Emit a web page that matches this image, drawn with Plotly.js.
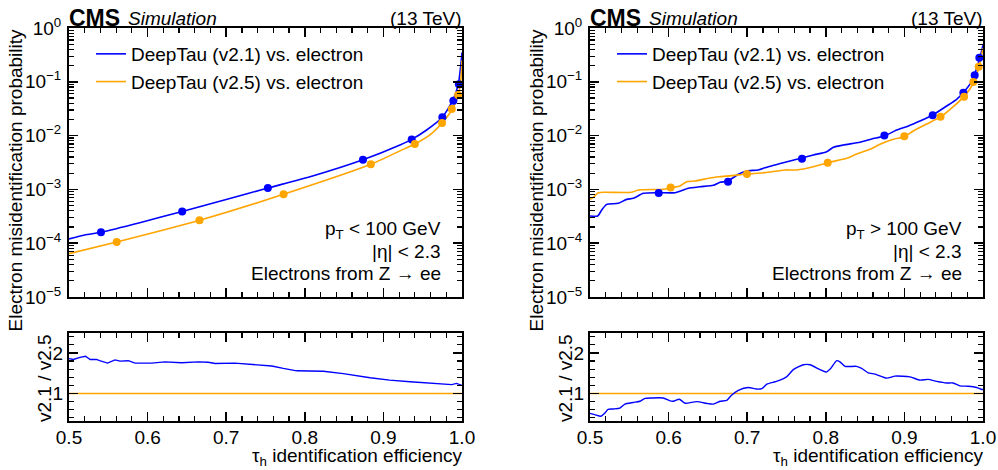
<!DOCTYPE html>
<html>
<head>
<meta charset="utf-8">
<script src="https://cdn.plot.ly/plotly-3.0.1.min.js"></script>
<style>html,body{margin:0;padding:0;background:#fff;}#chart{width:998px;height:470px;}</style>
</head>
<body>
<div id="chart"></div>
<script>
// ---------- data ----------
const seriesNames = ['DeepTau (v2.1) vs. electron', 'DeepTau (v2.5) vs. electron'];

// Left panel: pT < 100 GeV
const lowV21EffX = [0.5, 0.52, 0.5407, 0.59, 0.644, 0.70, 0.753, 0.81, 0.874, 0.9211, 0.936, 0.955, 0.975, 0.988, 0.9953, 0.9987, 1.0];
const lowV21MisY = [1.2e-4, 1.42e-4, 1.6e-4, 2.4e-4, 3.9e-4, 6.5e-4, 1.06e-3, 1.78e-3, 3.56e-3, 6.7e-3, 8.5e-3, 0.0127, 0.0219, 0.0446, 0.0898, 0.221, 0.35];
const lowV25EffX = [0.5, 0.5607, 0.666, 0.773, 0.884, 0.9211, 0.940, 0.9593, 0.9746, 0.9876, 0.9953, 0.9987, 1.0];
const lowV25MisY = [6.4e-5, 1.05e-4, 2.66e-4, 8.1e-4, 2.92e-3, 5.2e-3, 6.98e-3, 0.0103, 0.0171, 0.0309, 0.0569, 0.116, 0.25];
const lowV21WpX = [0.5407, 0.644, 0.753, 0.874, 0.936, 0.975, 0.989, 0.996];
const lowV21WpY = [1.6e-4, 3.9e-4, 1.06e-3, 3.56e-3, 8.5e-3, 0.0219, 0.0446, 0.0898];
const lowV25WpX = [0.5607, 0.666, 0.773, 0.884, 0.940, 0.9746, 0.987, 0.995];
const lowV25WpY = [1.05e-4, 2.66e-4, 8.1e-4, 2.92e-3, 6.98e-3, 0.0171, 0.0312, 0.0569];
const lowRatioX = [0.5, 0.5055, 0.514, 0.521, 0.527, 0.535, 0.539, 0.549, 0.5585, 0.565, 0.5755, 0.584, 0.605, 0.622, 0.643, 0.6645, 0.677, 0.686, 0.711, 0.732, 0.748, 0.758, 0.7726, 0.7897, 0.8235, 0.849, 0.883, 0.908, 0.934, 0.9635, 0.987, 0.993, 1.0];
const lowRatioY = [1.86, 1.84, 1.89, 1.92, 1.84, 1.84, 1.81, 1.75, 1.83, 1.80, 1.81, 1.75, 1.75, 1.78, 1.76, 1.78, 1.77, 1.74, 1.75, 1.72, 1.68, 1.68, 1.62, 1.56, 1.55, 1.49, 1.39, 1.33, 1.29, 1.25, 1.22, 1.25, 1.20];

// Right panel: pT > 100 GeV
const highV21EffX = [0.5, 0.5098, 0.5149, 0.5212, 0.536, 0.5467, 0.5551, 0.5679, 0.587, 0.6081, 0.625, 0.6399, 0.6569, 0.6654, 0.675, 0.6887, 0.6994, 0.714, 0.7269, 0.7396, 0.7545, 0.7693, 0.7841, 0.8011, 0.8096, 0.8223, 0.8435, 0.8584, 0.8745, 0.8902, 0.905, 0.9198, 0.936, 0.9538, 0.9665, 0.975, 0.9856, 0.989, 0.9953, 1.0];
const highV21MisY = [3.21e-4, 3.21e-4, 4.14e-4, 5.27e-4, 5.51e-4, 6.53e-4, 6.82e-4, 8.45e-4, 8.69e-4, 8.69e-4, 1.05e-3, 1.12e-3, 1.19e-3, 1.355e-3, 1.42e-3, 1.91e-3, 2.2e-3, 2.3e-3, 2.64e-3, 2.96e-3, 3.37e-3, 3.84e-3, 4.37e-3, 5.02e-3, 6.05e-3, 6.68e-3, 7.5e-3, 8.65e-3, 9.84e-3, 0.0127, 0.01507, 0.01866, 0.02415, 0.0355, 0.0472, 0.0631, 0.1005, 0.1337, 0.254, 0.48];
const highV25EffX = [0.5, 0.5042, 0.5106, 0.519, 0.553, 0.5615, 0.5933, 0.603, 0.6145, 0.623, 0.6336, 0.6505, 0.6632, 0.6803, 0.6997, 0.7226, 0.748, 0.763, 0.7841, 0.8024, 0.8266, 0.8393, 0.8562, 0.869, 0.8859, 0.8999, 0.9113, 0.9284, 0.9466, 0.9622, 0.9758, 0.9877, 0.995, 1.0];
const highV25MisY = [6.53e-4, 7.13e-4, 8.69e-4, 8.83e-4, 8.83e-4, 9.75e-4, 1.005e-3, 1.076e-3, 1.156e-3, 1.39e-3, 1.43e-3, 1.61e-3, 1.72e-3, 1.8e-3, 1.93e-3, 2.05e-3, 2.3e-3, 2.3e-3, 2.64e-3, 3.14e-3, 3.78e-3, 4.55e-3, 5.56e-3, 6.89e-3, 8.53e-3, 9.55e-3, 0.0122, 0.01644, 0.0225, 0.0345, 0.053, 0.0938, 0.191, 0.42];
const highV21WpX = [0.5874, 0.6756, 0.7697, 0.8745, 0.936, 0.975, 0.9894, 0.9953];
const highV21WpY = [8.6e-4, 1.39e-3, 3.72e-3, 1.0e-2, 0.0238, 0.0628, 0.132, 0.28];
const highV25WpX = [0.6026, 0.6997, 0.8024, 0.8999, 0.946, 0.976, 0.9877, 0.9945];
const highV25WpY = [1.08e-3, 1.93e-3, 3.14e-3, 9.7e-3, 0.0225, 0.053, 0.099, 0.191];
const highRatioX = [0.5, 0.506, 0.514, 0.519, 0.523, 0.5297, 0.538, 0.5445, 0.555, 0.5636, 0.570, 0.5785, 0.593, 0.6018, 0.606, 0.6136, 0.621, 0.6357, 0.6505, 0.657, 0.6654, 0.674, 0.680, 0.6887, 0.7014, 0.712, 0.7185, 0.725, 0.7354, 0.7417, 0.750, 0.7587, 0.7714, 0.780, 0.7926, 0.8003, 0.8062, 0.8139, 0.818, 0.8244, 0.839, 0.8456, 0.854, 0.8626, 0.8775, 0.888, 0.9071, 0.92, 0.930, 0.941, 0.9538, 0.962, 0.9707, 0.981, 0.992, 0.9985, 1.0];
const highRatioY = [0.51, 0.48, 0.44, 0.52, 0.61, 0.62, 0.64, 0.74, 0.78, 0.81, 0.88, 0.89, 0.89, 0.82, 0.81, 0.86, 0.76, 0.80, 0.75, 0.74, 0.81, 0.83, 0.96, 1.08, 1.15, 1.11, 1.12, 1.23, 1.29, 1.33, 1.41, 1.59, 1.71, 1.71, 1.59, 1.53, 1.62, 1.81, 1.78, 1.67, 1.67, 1.62, 1.51, 1.48, 1.38, 1.43, 1.41, 1.33, 1.35, 1.30, 1.26, 1.26, 1.19, 1.18, 1.15, 1.10, 1.10];

// reference (v2.5 / v2.5) ratio line
const refRatioX = [0.5, 1.0];
const refRatioY = [1, 1];

// tick labels
const xTickVals = [0.5, 0.6, 0.7, 0.8, 0.9, 1.0];
const xTickText = ['0.5', '0.6', '0.7', '0.8', '0.9', '1.0'];
const yTickVals = [1e-5, 1e-4, 1e-3, 1e-2, 1e-1, 1];
const yTickText = ['10<sup>−5</sup>', '10<sup>−4</sup>', '10<sup>−3</sup>', '10<sup>−2</sup>', '10<sup>−1</sup>', '10<sup>0</sup>'];
const ratioTickVals = [1, 2];
const ratioTickText = ['1', '2'];

// ---------- styling ----------
const BLUE = '#0000ff';
const ORANGE = '#ffa500';
const FONT = 'Liberation Sans, Arial, sans-serif';
const W = 998, H = 470;
const px = v => v / W;
const py = v => 1 - v / H;

const logMinor = [];
for (let d = -5; d < 0; d++) for (let k = 2; k <= 9; k++) logMinor.push(k * Math.pow(10, d));

function xAxis(dom, anchor, labels) {
  return {
    domain: dom, anchor: anchor, range: [0.5, 1.0], tickmode: 'array', tickvals: xTickVals, ticktext: xTickText,
    showticklabels: labels, ticks: 'inside', ticklen: 9, tickwidth: 1.5, tickcolor: '#000',
    minor: {ticks: 'inside', dtick: 0.02, tick0: 0.5, ticklen: 5, tickwidth: 1.2, tickcolor: '#000'},
    showline: true, linewidth: 2, linecolor: '#000', mirror: 'allticks', showgrid: false, zeroline: false,
    tickfont: {family: FONT, size: 19, color: '#000'}, ticklabelstandoff: -2, fixedrange: true
  };
}
function yMain(dom, anchor) {
  return {
    domain: dom, anchor: anchor, type: 'log', range: [-5, 0], tickmode: 'array', tickvals: yTickVals, ticktext: yTickText,
    ticks: 'inside', ticklen: 9, tickwidth: 1.5, tickcolor: '#000',
    minor: {ticks: 'inside', tickmode: 'array', tickvals: logMinor, ticklen: 5, tickwidth: 1.2, tickcolor: '#000'},
    showline: true, linewidth: 2, linecolor: '#000', mirror: 'allticks', showgrid: false, zeroline: false,
    tickfont: {family: FONT, size: 19, color: '#000'}, ticklabelstandoff: 2, fixedrange: true
  };
}
function yRatio(dom, anchor) {
  return {
    domain: dom, anchor: anchor, range: [0.33, 2.5], tickmode: 'array', tickvals: ratioTickVals, ticktext: ratioTickText,
    ticks: 'inside', ticklen: 9, tickwidth: 1.5, tickcolor: '#000',
    minor: {ticks: 'inside', dtick: 0.2, tick0: 0, ticklen: 5, tickwidth: 1.2, tickcolor: '#000'},
    showline: true, linewidth: 2, linecolor: '#000', mirror: 'allticks', showgrid: false, zeroline: false,
    tickfont: {family: FONT, size: 19, color: '#000'}, fixedrange: true
  };
}

const LX = [px(69), px(462)];
const RX = [px(590), px(983)];
const MAINY = [py(297), py(28)];
const RATY = [py(420.7), py(332.7)];

function line(x, y, color, xa, ya, name, legend, show) {
  return {x: x, y: y, type: 'scatter', mode: 'lines', line: {color: color, width: 1.6, shape: 'spline', smoothing: 0.6},
    xaxis: xa, yaxis: ya, name: name, legend: legend, showlegend: show, hoverinfo: 'skip'};
}
function dots(x, y, color, xa, ya) {
  return {x: x, y: y, type: 'scatter', mode: 'markers', marker: {color: color, size: 8},
    xaxis: xa, yaxis: ya, showlegend: false, hoverinfo: 'skip'};
}

const data = [
  line(lowV21EffX, lowV21MisY, BLUE, 'x', 'y', seriesNames[0], 'legend', true),
  line(lowV25EffX, lowV25MisY, ORANGE, 'x', 'y', seriesNames[1], 'legend', true),
  dots(lowV21WpX, lowV21WpY, BLUE, 'x', 'y'),
  dots(lowV25WpX, lowV25WpY, ORANGE, 'x', 'y'),
  {x: refRatioX, y: refRatioY, type: 'scatter', mode: 'lines', line: {color: ORANGE, width: 1.4}, xaxis: 'x2', yaxis: 'y2', showlegend: false, hoverinfo: 'skip'},
  {x: lowRatioX, y: lowRatioY, type: 'scatter', mode: 'lines', line: {color: BLUE, width: 1.4}, xaxis: 'x2', yaxis: 'y2', showlegend: false, hoverinfo: 'skip'},

  line(highV21EffX, highV21MisY, BLUE, 'x3', 'y3', seriesNames[0], 'legend2', true),
  line(highV25EffX, highV25MisY, ORANGE, 'x3', 'y3', seriesNames[1], 'legend2', true),
  dots(highV21WpX, highV21WpY, BLUE, 'x3', 'y3'),
  dots(highV25WpX, highV25WpY, ORANGE, 'x3', 'y3'),
  {x: refRatioX, y: refRatioY, type: 'scatter', mode: 'lines', line: {color: ORANGE, width: 1.4}, xaxis: 'x4', yaxis: 'y4', showlegend: false, hoverinfo: 'skip'},
  {x: highRatioX, y: highRatioY, type: 'scatter', mode: 'lines', line: {color: BLUE, width: 1.4, shape: 'spline', smoothing: 0.6}, xaxis: 'x4', yaxis: 'y4', showlegend: false, hoverinfo: 'skip'}
];

function panelAnnotations(x0, x1, textX, lines) {
  const f = {family: FONT, size: 19, color: '#000'};
  const a = [
    {text: '<b>CMS</b>', x: px(x0 - 1), y: py(32), xanchor: 'left', yanchor: 'bottom', font: {family: FONT, size: 23, color: '#000'}},
    {text: '<i>Simulation</i>', x: px(x0 + 58), y: py(30), xanchor: 'left', yanchor: 'bottom', font: f},
    {text: '(13 TeV)', x: px(x1), y: py(30), xanchor: 'right', yanchor: 'bottom', font: f},
    {text: 'Electron misidentification probability', x: px(x0 - 54), y: py(28), xanchor: 'center', yanchor: 'top', textangle: -90, font: f},
    {text: 'v2.1 / v2.5', x: px(x0 - 25), y: py(333), xanchor: 'center', yanchor: 'top', textangle: -90, font: f},
    {text: 'τ<sub>h</sub> identification efficiency', x: px(x1 + 1), y: py(470), xanchor: 'right', yanchor: 'bottom', font: f}
  ];
  lines.forEach((t, i) => a.push({text: t, x: px(textX), y: py(230 + i * 21.7), xanchor: 'right', yanchor: 'middle', font: f}));
  a.forEach(o => { o.xref = 'paper'; o.yref = 'paper'; o.showarrow = false; o.borderpad = 0; });
  return a;
}

const legendStyle = x => ({x: x, y: py(35), xanchor: 'left', yanchor: 'top', bgcolor: 'rgba(0,0,0,0)', borderwidth: 0,
  font: {family: FONT, size: 19, color: '#000'}, tracegroupgap: 0, itemclick: false, itemdoubleclick: false});

const layout = {
  width: W, height: H, margin: {l: 0, r: 0, t: 0, b: 0}, paper_bgcolor: '#fff', plot_bgcolor: '#fff',
  font: {family: FONT, size: 19, color: '#000'},
  xaxis: xAxis(LX, 'y', false), yaxis: yMain(MAINY, 'x'),
  xaxis2: xAxis(LX, 'y2', true), yaxis2: yRatio(RATY, 'x2'),
  xaxis3: xAxis(RX, 'y3', false), yaxis3: yMain(MAINY, 'x3'),
  xaxis4: xAxis(RX, 'y4', true), yaxis4: yRatio(RATY, 'x4'),
  legend: legendStyle(px(91)), legend2: legendStyle(px(612)),
  annotations: [].concat(
    panelAnnotations(69, 462, 442, ['p<sub>T</sub> < 100 GeV', '|η| < 2.3', 'Electrons from Z → ee']),
    panelAnnotations(590, 983, 963, ['p<sub>T</sub> > 100 GeV', '|η| < 2.3', 'Electrons from Z → ee'])
  )
};

Plotly.newPlot('chart', data, layout, {displayModeBar: false, staticPlot: true});
</script>
</body>
</html>
